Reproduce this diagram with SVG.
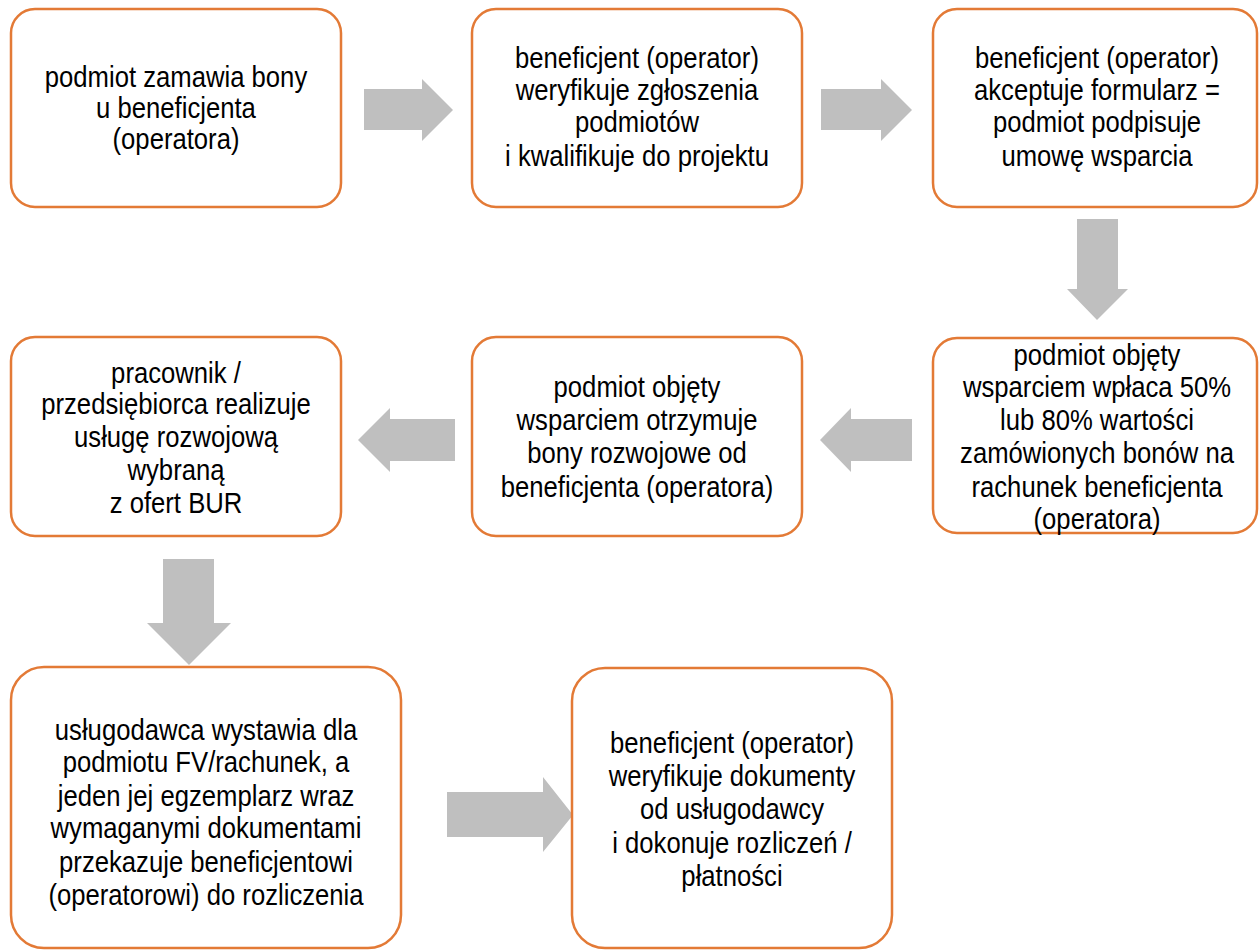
<svg xmlns="http://www.w3.org/2000/svg" width="1259" height="951" viewBox="0 0 1259 951">
<style>
.box{fill:#FFFFFF;stroke:#E37A36;stroke-width:2.5}
.arr{fill:#BFBFBF;stroke:none}
.t{font-family:"Liberation Sans",Arial,sans-serif;font-size:29px;fill:#000000;text-anchor:middle}
</style>
<rect width="1259" height="951" fill="#FFFFFF"/>
<g id="connectors">
<path class="arr" d="M364,89 H422 V79 L453,110 L422,141 V130 H364 Z"/>
<path class="arr" d="M821,89 H881 V79 L912,110 L881,141 V130 H821 Z"/>
<path class="arr" d="M1077,219 H1118 V289 H1128 L1097,320 L1067,289 H1077 Z"/>
<path class="arr" d="M912,419 H851 V408 L820,440 L851,472 V461 H912 Z"/>
<path class="arr" d="M455,419 H390 V408 L358,440 L390,472 V461 H455 Z"/>
<path class="arr" d="M163,559 H214 V623 H231 L189,665 L147,623 H163 Z"/>
<path class="arr" d="M447,792 H543 V777 L573,815 L543,852 V837 H447 Z"/>
</g>
<g id="n1">
<rect class="box" x="11" y="9" width="330" height="198" rx="24"/>
<g transform="translate(176,0) scale(0.885,1)">
<text class="t" x="0" y="87">podmiot zamawia bony</text>
<text class="t" x="0" y="118">u beneficjenta</text>
<text class="t" x="0" y="149">(operatora)</text>
</g>
</g>
<g id="n2">
<rect class="box" x="472" y="9" width="330" height="198" rx="24"/>
<g transform="translate(637,0) scale(0.885,1)">
<text class="t" x="0" y="68">beneficjent (operator)</text>
<text class="t" x="0" y="100">weryfikuje zgłoszenia</text>
<text class="t" x="0" y="132">podmiotów</text>
<text class="t" x="0" y="166">i kwalifikuje do projektu</text>
</g>
</g>
<g id="n3">
<rect class="box" x="933" y="9" width="324" height="198" rx="24"/>
<g transform="translate(1097,0) scale(0.885,1)">
<text class="t" x="0" y="68">beneficjent (operator)</text>
<text class="t" x="0" y="100">akceptuje formularz =</text>
<text class="t" x="0" y="132">podmiot podpisuje</text>
<text class="t" x="0" y="166">umowę wsparcia</text>
</g>
</g>
<g id="n4">
<rect class="box" x="11" y="337" width="330" height="199" rx="24"/>
<g transform="translate(176,0) scale(0.885,1)">
<text class="t" x="0" y="383">pracownik /</text>
<text class="t" x="0" y="414">przedsiębiorca realizuje</text>
<text class="t" x="0" y="447">usługę rozwojową</text>
<text class="t" x="0" y="480">wybraną</text>
<text class="t" x="0" y="513">z ofert BUR</text>
</g>
</g>
<g id="n5">
<rect class="box" x="472" y="337" width="330" height="199" rx="24"/>
<g transform="translate(637,0) scale(0.885,1)">
<text class="t" x="0" y="397">podmiot objęty</text>
<text class="t" x="0" y="430">wsparciem otrzymuje</text>
<text class="t" x="0" y="463">bony rozwojowe od</text>
<text class="t" x="0" y="497">beneficjenta (operatora)</text>
</g>
</g>
<g id="n6">
<rect class="box" x="933" y="338" width="324" height="195" rx="24"/>
<g transform="translate(1097,0) scale(0.885,1)">
<text class="t" x="0" y="365">podmiot objęty</text>
<text class="t" x="0" y="397">wsparciem wpłaca 50%</text>
<text class="t" x="0" y="430">lub 80% wartości</text>
<text class="t" x="0" y="463">zamówionych bonów na</text>
<text class="t" x="0" y="497">rachunek beneficjenta</text>
<text class="t" x="0" y="529">(operatora)</text>
</g>
</g>
<g id="n7">
<rect class="box" x="11" y="667" width="390" height="281" rx="33"/>
<g transform="translate(206,0) scale(0.885,1)">
<text class="t" x="0" y="740">usługodawca wystawia dla</text>
<text class="t" x="0" y="772">podmiotu FV/rachunek, a</text>
<text class="t" x="0" y="806">jeden jej egzemplarz wraz</text>
<text class="t" x="0" y="838">wymaganymi dokumentami</text>
<text class="t" x="0" y="872">przekazuje beneficjentowi</text>
<text class="t" x="0" y="905">(operatorowi) do rozliczenia</text>
</g>
</g>
<g id="n8">
<rect class="box" x="572" y="668" width="320" height="280" rx="33"/>
<g transform="translate(732,0) scale(0.885,1)">
<text class="t" x="0" y="753">beneficjent (operator)</text>
<text class="t" x="0" y="786">weryfikuje dokumenty</text>
<text class="t" x="0" y="819">od usługodawcy</text>
<text class="t" x="0" y="853">i dokonuje rozliczeń /</text>
<text class="t" x="0" y="886">płatności</text>
</g>
</g>
</svg>
